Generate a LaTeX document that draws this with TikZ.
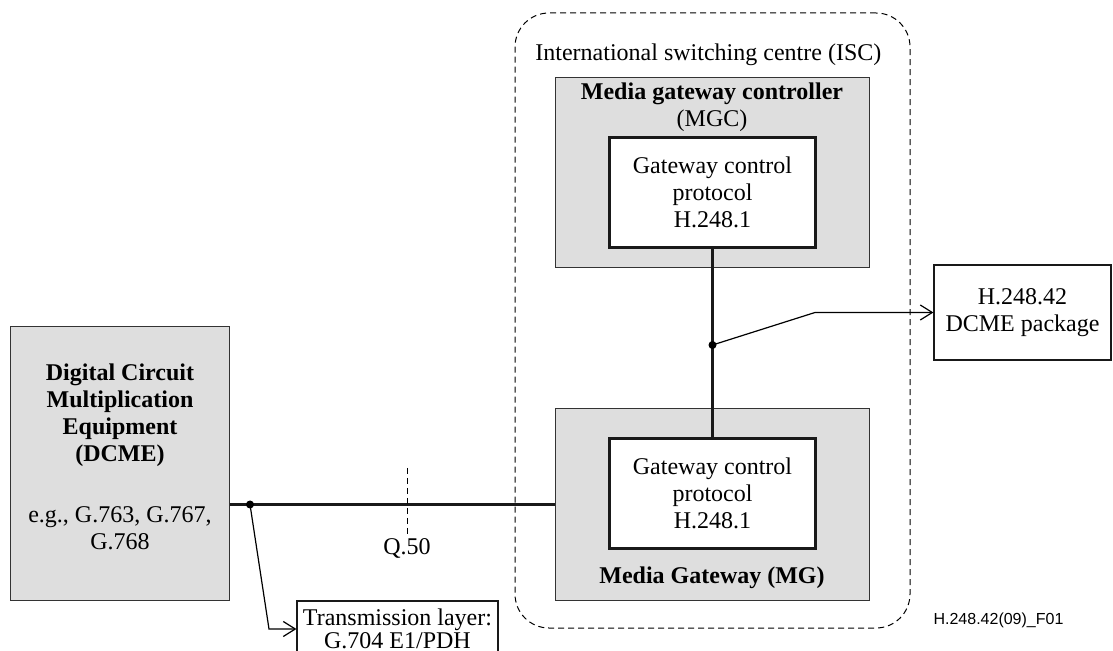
\documentclass[tikz,border=0pt]{standalone}
\usepackage{fontspec}
\setmainfont{Liberation Serif}
\newfontfamily\codefont{Liberation Sans}
\usetikzlibrary{arrows.meta}

\begin{document}
\begin{tikzpicture}
  [x=0.5pt,y=-0.5pt,
   every node/.style={rectangle,align=center,inner sep=0pt,
     font=\fontsize{12}{13.5}\selectfont},
   greybox/.style={draw=black!80,fill=black!13,line width=0.5pt},
   protobox/.style={draw=black!90,fill=white,line width=1.5pt,
     minimum width=103pt,minimum height=55pt},
   plainbox/.style={draw=black!90,fill=white,line width=0.6pt},
   link/.style={line width=1.6pt,black!90},
   tap/.style={line width=0.6pt,-{Straight Barb[length=6pt,width=7.5pt]}}]
  \useasboundingbox (0,0) rectangle (1113,651);

  % ISC frame
  \node[draw,dash pattern=on 3pt off 2pt,line width=0.5pt,rounded corners=17pt,
    minimum width=197.5pt,minimum height=307.5pt] (isc) at (712.5,320.5) {};
  \node[anchor=west] (isclabel) at (535,55) {International switching centre (ISC)};

  % boxes
  \node[greybox,minimum width=109.5pt,minimum height=136.5pt] (dcme) at (119.5,463.5) {};
  \node (dcmename) at (120,415) {\bfseries Digital Circuit\\ \bfseries Multiplication\\
    \bfseries Equipment\\ \bfseries (DCME)};
  \node (dcmerec) at (120,528) {e.g., G.763, G.767,\\ G.768};

  \node[greybox,minimum width=157pt,minimum height=95pt] (mgc) at (712,173) {};
  \node (mgcname) at (712,107.5) {\bfseries Media gateway controller\\ (MGC)};
  \node[protobox] (mgcproto) at (712.5,192.5) {Gateway control\\ protocol\\ H.248.1};

  \node[greybox,minimum width=157pt,minimum height=95.5pt] (mg) at (712,504.5) {};
  \node[protobox] (mgproto) at (712.5,493.5) {Gateway control\\ protocol\\ H.248.1};
  \node (mgname) at (712,578) {\bfseries Media Gateway (MG)};

  \node[plainbox,minimum width=88.5pt,minimum height=47.5pt] (pkg) at (1022.5,312.5)
    {H.248.42\\ DCME package};
  \node[plainbox,minimum width=100.5pt,minimum height=28pt] (trans) at (397.5,629)
    {Transmission layer:\\[-2pt] G.704 E1/PDH};

  \node (q50) at (407,548) {Q.50};
  \coordinate (q50top) at (407,468);
  \node[font=\codefont\fontsize{8}{9}\selectfont] (fig) at (998.5,620) {H.248.42(09)\_F01};

  % connectors
  \draw[link] (mg.west) -- (mg.west -| dcme.east);
  \draw[link] (mgcproto.south) -- (mgproto.north);
  \draw[dash pattern=on 3pt off 2pt,line width=0.5pt] (q50top) -- (q50.north);

  \coordinate (tapL) at (250,504.5);
  \coordinate (bendL) at (269,629);
  \fill (tapL) circle (2pt);
  \draw[tap] (tapL) -- (bendL) -- (trans.west);

  \coordinate (tapR) at (712.5,345);
  \coordinate (bendR) at (815,312.5);
  \fill (tapR) circle (2pt);
  \draw[tap] (tapR) -- (bendR) -- (pkg.west);
\end{tikzpicture}
\end{document}
